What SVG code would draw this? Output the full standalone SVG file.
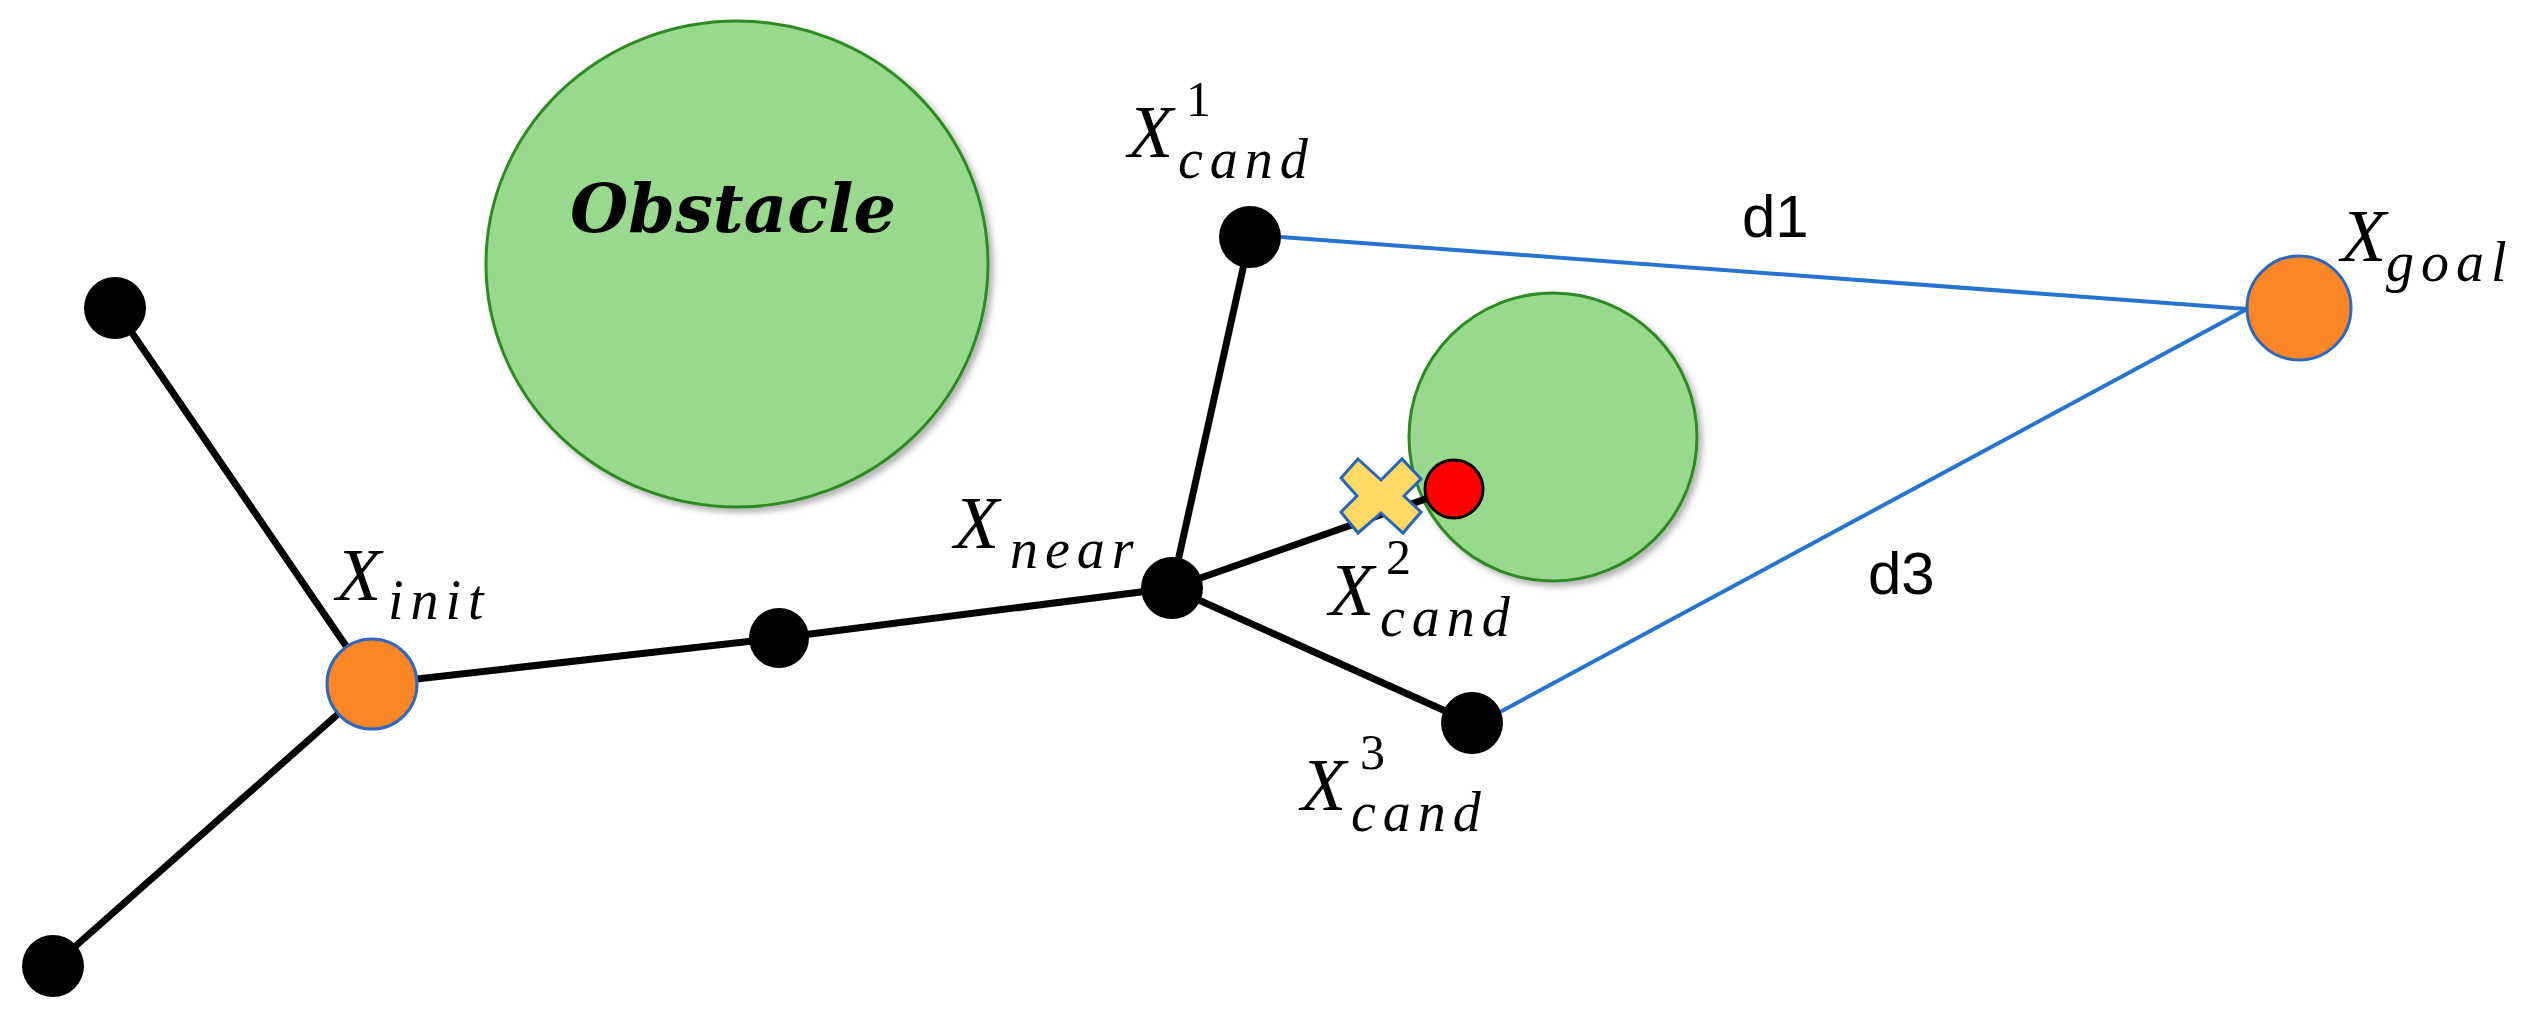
<svg xmlns="http://www.w3.org/2000/svg" width="2531" height="1023" viewBox="0 0 2531 1023">
  <defs>
    <filter id="shadow" x="-10%" y="-10%" width="125%" height="125%">
      <feDropShadow dx="4" dy="4" stdDeviation="3" flood-color="#000" flood-opacity="0.3"/>
    </filter>
  </defs>
  <style>
    .obst { fill: #98D98E; stroke: #2F8A22; stroke-width: 3; filter: url(#shadow); }
    .node { fill: #000; }
    .term { fill: #FB8626; stroke: #2E68BE; stroke-width: 3; }
    .edge { stroke: #000; stroke-width: 7; fill: none; stroke-linecap: round; }
    .dist { stroke: #2574D2; stroke-width: 4; fill: none; }
    .math { font-family: "Liberation Serif", "DejaVu Serif", serif; font-style: italic; font-size: 74px; fill: #000; }
    .sub { font-size: 56px; letter-spacing: 7px; }
    .sup { font-style: normal; font-size: 50px; }
    .lbl { font-family: "Liberation Sans", Arial, sans-serif; font-size: 60px; fill: #000; }
    .obt { font-family: "DejaVu Serif", "Liberation Serif", serif; font-style: italic; font-weight: bold; font-size: 68px; fill: #000; }
  </style>
  <rect width="2531" height="1023" fill="#fff"/>

  <g id="obstacle-large">
    <ellipse class="obst" cx="737" cy="264" rx="251" ry="243"/>
    <text class="obt" x="570" y="232" textLength="326" lengthAdjust="spacingAndGlyphs">Obstacle</text>
  </g>
  <g id="obstacle-small">
    <circle class="obst" cx="1553" cy="437" r="144"/>
  </g>

  <g id="connectors">
    <line class="edge" x1="115" y1="308" x2="372" y2="684"/>
    <line class="edge" x1="53" y1="966" x2="372" y2="684"/>
    <line class="edge" x1="372" y1="684" x2="779" y2="638"/>
    <line class="edge" x1="779" y1="638" x2="1172" y2="588"/>
    <line class="edge" x1="1172" y1="588" x2="1250" y2="237"/>
    <line class="edge" x1="1172" y1="588" x2="1454" y2="489"/>
    <line class="edge" x1="1172" y1="588" x2="1472" y2="723"/>
    <line class="dist" x1="1281" y1="237" x2="2247" y2="309"/>
    <line class="dist" x1="1500" y1="712" x2="2247" y2="309"/>
    <text class="lbl" x="1742" y="237">d1</text>
    <text class="lbl" x="1868" y="594">d3</text>
  </g>

  <g id="node-leaf-top"><circle class="node" cx="115" cy="308" r="31"/></g>
  <g id="node-leaf-bottom"><circle class="node" cx="53" cy="966" r="31"/></g>
  <g id="node-mid"><circle class="node" cx="779" cy="638" r="30"/></g>

  <g id="node-init">
    <circle class="term" cx="372" cy="684" r="45"/>
    <text class="math"><tspan x="336" y="600">X</tspan><tspan class="sub" x="388" y="619" letter-spacing="5">init</tspan></text>
  </g>

  <g id="node-near">
    <circle class="node" cx="1172" cy="588" r="31"/>
    <text class="math"><tspan x="954" y="548">X</tspan><tspan class="sub" x="1010" y="568">near</tspan></text>
  </g>

  <g id="node-cand1">
    <circle class="node" cx="1250" cy="237" r="31"/>
    <text class="math"><tspan x="1128" y="157">X</tspan><tspan class="sup" x="1186" y="116">1</tspan><tspan class="sub" x="1178" y="178">cand</tspan></text>
  </g>

  <g id="node-cand2">
    <circle fill="#FF0000" stroke="#000" stroke-width="3" cx="1454" cy="489" r="29"/>
    <polygon fill="#FFD966" stroke="#2B65B5" stroke-width="3" stroke-linejoin="miter" transform="translate(1381 496)" points="-23,-37 0,-16 21,-37 40,-17 23,0 40,16 22,37 0,17 -23,37 -40,16 -24,0 -40,-18"/>
    <text class="math"><tspan x="1329" y="615">X</tspan><tspan class="sup" x="1386" y="574">2</tspan><tspan class="sub" x="1380" y="636">cand</tspan></text>
  </g>

  <g id="node-cand3">
    <circle class="node" cx="1472" cy="723" r="31"/>
    <text class="math"><tspan x="1301" y="810">X</tspan><tspan class="sup" x="1360" y="769">3</tspan><tspan class="sub" x="1351" y="831">cand</tspan></text>
  </g>

  <g id="node-goal">
    <circle class="term" cx="2299" cy="308" r="52"/>
    <text class="math"><tspan x="2341" y="261">X</tspan><tspan class="sub" x="2386" y="281">goal</tspan></text>
  </g>
</svg>
